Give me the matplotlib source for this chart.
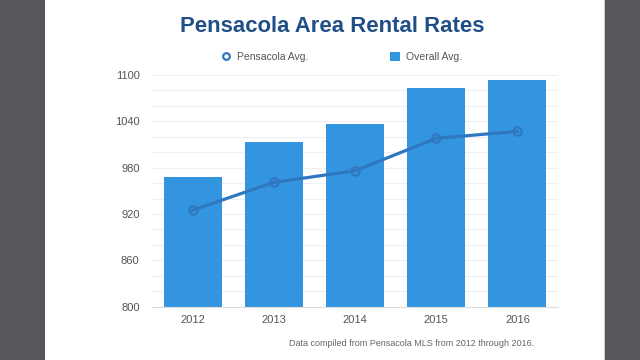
import matplotlib
matplotlib.use("Agg")
import matplotlib.pyplot as plt
from matplotlib.lines import Line2D
from matplotlib.patches import Patch, Rectangle

years = ["2012", "2013", "2014", "2015", "2016"]
overall_avg = [968, 1013, 1037, 1083, 1093]
pensacola_avg = [925, 961, 976, 1018, 1027]
y_ticks = [800, 860, 920, 980, 1040, 1100]

plt.rcParams['font.family'] = ['Liberation Sans', 'DejaVu Sans']

W, H = 640, 360
fig = plt.figure(figsize=(W / 100, H / 100), dpi=100, facecolor="#55575c")
# white panel
fig.patches.append(Rectangle((45 / W, 0), (604 - 45) / W, 1, transform=fig.transFigure,
                             facecolor="white", edgecolor="none", zorder=-5))
fig.patches.append(Rectangle((604 / W, 0), 1.2 / W, 1, transform=fig.transFigure,
                             facecolor="#c8c9cc", edgecolor="none", zorder=-5))

ax = fig.add_axes([152 / W, 1 - 306.7 / H, (558 - 152) / W, (306.7 - 75) / H])
ax.set_zorder(2)
ax.set_facecolor("none")

bar_color = "#3395e0"
line_color = "#2f78c0"
x = list(range(len(years)))
ax.bar(x, overall_avg, width=0.715, color=bar_color, zorder=2)
ax.plot(x, pensacola_avg, color=line_color, lw=2.3, marker="o", ms=6,
        markerfacecolor="none", markeredgewidth=1.6, markeredgecolor=line_color, zorder=3)

ax.set_xlim(-0.5, 4.5)
ax.set_ylim(800, 1100)
ax.set_yticks(y_ticks)
ax.set_yticks(range(800, 1101, 20), minor=True)
ax.set_xticks(x)
ax.set_xticklabels(years)
ax.grid(True, which="both", axis="y", color="#efefef", lw=0.8, zorder=0)
for s in ["top", "right", "left"]:
    ax.spines[s].set_visible(False)
ax.spines["bottom"].set_color("#dddddd")
ax.spines["bottom"].set_linewidth(0.8)
ax.tick_params(axis="y", which="both", length=0, pad=9, labelsize=8, labelcolor="#555555")
ax.tick_params(axis="x", length=0, pad=6, labelsize=8, labelcolor="#555555")

fig.text(332 / W, 1 - 26 / H, "Pensacola Area Rental Rates", ha="center", va="center",
         fontsize=15.9, fontweight="bold", color="#1f4f86")

handles = [
    Line2D([], [], marker="o", linestyle="none", ms=4.8, markerfacecolor="white",
           markeredgecolor=line_color, markeredgewidth=1.6),
    Patch(facecolor=bar_color, edgecolor="none"),
]
fig.legend(handles, ["Pensacola Avg.", "Overall Avg."], loc="center",
           bbox_to_anchor=(341.5 / W, 1 - 57 / H), ncol=2, frameon=False,
           fontsize=7.5, labelcolor="#555555", handlelength=1.0, handleheight=1.0,
           handletextpad=0.6, columnspacing=7.8, borderpad=0, borderaxespad=0)

fig.text(411.5 / W, 1 - 343 / H, "Data compiled from Pensacola MLS from 2012 through 2016.",
         ha="center", va="center", fontsize=6.5, color="#666666")

fig.savefig("out.png", dpi=100, facecolor=fig.get_facecolor())
